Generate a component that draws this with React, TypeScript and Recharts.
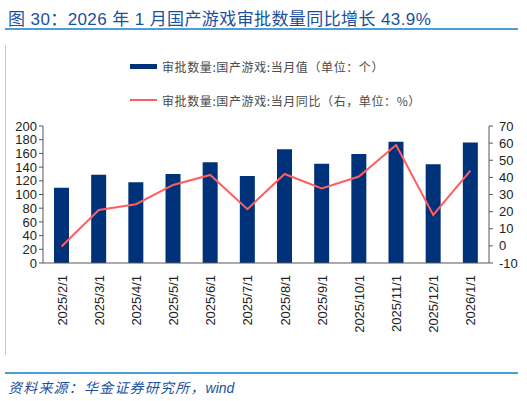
import React from "react";
import { ComposedChart, Bar, Line, XAxis, YAxis } from "recharts";

const categories = ["2025/2/1","2025/3/1","2025/4/1","2025/5/1","2025/6/1","2025/7/1","2025/8/1","2025/9/1","2025/10/1","2025/11/1","2025/12/1","2026/1/1"];
const approvals = [110,129,118,130,147,127,166,145,159,177,144,176];
const yoy = [-0.4,21.0,24.3,35.6,41.4,21.4,42.0,33.5,40.5,58.9,18.1,43.9];
const leftTicks = [0,20,40,60,80,100,120,140,160,180,200];
const rightTicks = [-10,0,10,20,30,40,50,60,70];
const edgeTicks = [0,1,2,3,4,5,6,7,8,9,10,11,12];

const barName = "审批数量:国产游戏:当月值（单位：个）";
const lineName = "审批数量:国产游戏:当月同比（右，单位：%）";
const title = "图 30：2026 年 1 月国产游戏审批数量同比增长 43.9%";
const sourceCn = "资料来源：华金证券研究所，";
const sourceEn = "wind";

const data = categories.map((c, i) => ({ date: c, approvals: approvals[i], yoy: yoy[i] }));

const BAR_COLOR = "#00327A";
const LINE_COLOR = "#FF5E5E";
const AXIS_COLOR = "#595959";
const FONT = "'Liberation Sans', Arial, sans-serif";

const XTick = (props: any) => {
  const { x, y, payload } = props;
  return (
    <text
      transform={`translate(${x + 5},${y + 4}) rotate(-90)`}
      textAnchor="end"
      fontSize={13}
      fontFamily={FONT}
      fill="#222"
    >
      {payload.value}
    </text>
  );
};

const LegendBlock = () => (
  <div
    style={{
      position: "absolute", left: 130, top: 56,
      fontFamily: "'Noto Sans CJK SC', sans-serif", fontSize: 12, color: "#4a4a4a", letterSpacing: 0.6,
      whiteSpace: "nowrap",
    }}
  >
    <div style={{ display: "flex", alignItems: "center", height: 20 }}>
      <span style={{ display: "inline-block", width: 27, height: 5, background: BAR_COLOR, marginRight: 5 }} />
      <span>{barName}</span>
    </div>
    <div style={{ display: "flex", alignItems: "center", height: 20, marginTop: 14 }}>
      <span style={{ display: "inline-block", width: 27, height: 2, background: LINE_COLOR, marginRight: 5 }} />
      <span>{lineName}</span>
    </div>
  </div>
);

export default function App() {
  return (
    <div style={{ position: "absolute", left: 0, top: 0, width: 527, height: 401, background: "#fff", overflow: "hidden" }}>
      <div
        style={{
          position: "absolute", left: 8, top: 5, fontSize: 17, color: "#1B4F9C",
          fontFamily: "'Liberation Sans', 'Noto Sans CJK SC', sans-serif", whiteSpace: "nowrap", letterSpacing: 0.4,
        }}
      >
        {title}
      </div>
      <div style={{ position: "absolute", left: 5, top: 28, width: 513, height: 1.5, background: "#4A9FD8" }} />
      <div style={{ position: "absolute", left: 5, top: 45, width: 1, height: 310, background: "#C8C8C8" }} />
      <LegendBlock />
      <div style={{ position: "absolute", left: 0, top: 0 }}>
        <ComposedChart
          width={527}
          height={401}
          data={data}
          margin={{ top: 126, right: 3, bottom: 78, left: 3 }}
          barSize={15}
        >
          <XAxis
            xAxisId="edge"
            type="number"
            domain={[0, 12]}
            ticks={edgeTicks}
            tick={false}
            height={0}
            axisLine={false}
            tickLine={{ stroke: AXIS_COLOR }}
            tickSize={4}
          />
          <XAxis
            dataKey="date"
            xAxisId="cat"
            interval={0}
            tick={<XTick />}
            tickLine={false}
            axisLine={{ stroke: AXIS_COLOR }}
            height={60}
          />
          <YAxis
            yAxisId="left"
            domain={[0, 200]}
            ticks={leftTicks}
            interval={0}
            width={40}
            tickSize={4}
            tickMargin={2}
            axisLine={{ stroke: AXIS_COLOR }}
            tickLine={{ stroke: AXIS_COLOR }}
            tick={{ fontSize: 13, fill: "#222", fontFamily: FONT }}
          />
          <YAxis
            yAxisId="right"
            orientation="right"
            domain={[-10, 70]}
            ticks={rightTicks}
            interval={0}
            width={35}
            tickSize={4}
            tickMargin={6}
            axisLine={{ stroke: AXIS_COLOR }}
            tickLine={{ stroke: AXIS_COLOR }}
            tick={{ fontSize: 13, fill: "#222", fontFamily: FONT, textAnchor: "start" }}
          />
          <Bar
            dataKey="approvals"
            name={barName}
            xAxisId="cat"
            yAxisId="left"
            fill={BAR_COLOR}
            isAnimationActive={false}
          />
          <Line
            dataKey="yoy"
            name={lineName}
            xAxisId="cat"
            yAxisId="right"
            type="linear"
            stroke={LINE_COLOR}
            strokeWidth={2}
            dot={false}
            activeDot={false}
            isAnimationActive={false}
          />
        </ComposedChart>
      </div>
      <div style={{ position: "absolute", left: 5, top: 372, width: 513, height: 1.5, background: "#4A9FD8" }} />
      <div
        style={{
          position: "absolute", left: 8, top: 377, fontSize: 14, color: "#1B4F9C", fontStyle: "italic",
          fontFamily: "'Liberation Sans', 'Noto Sans CJK SC', sans-serif", whiteSpace: "nowrap",
        }}
      >
        <span style={{ letterSpacing: 1.2 }}>{sourceCn}</span>
        <span>{sourceEn}</span>
      </div>
    </div>
  );
}
